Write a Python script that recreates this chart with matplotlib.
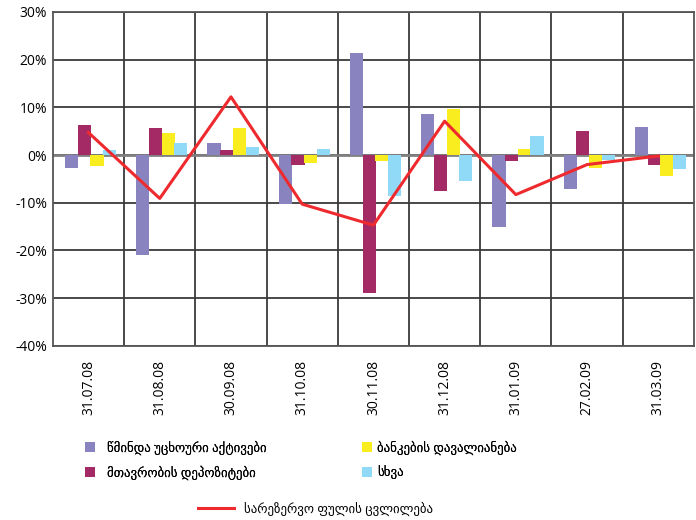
import matplotlib
matplotlib.use("Agg")
import matplotlib.pyplot as plt
import numpy as np
from matplotlib.patches import Patch
from matplotlib.lines import Line2D

plt.rcParams['font.family'] = ['Open Sans', 'DejaVu Sans']

dates = ["31.07.08", "31.08.08", "30.09.08", "31.10.08", "30.11.08",
         "31.12.08", "31.01.09", "27.02.09", "31.03.09"]

net_foreign_assets = [-2.7, -20.9, 2.5, -10.2, 21.4, 8.6, -15.0, -7.1, 5.9]
gov_deposits = [6.3, 5.7, 1.0, -2.1, -28.9, -7.5, -1.2, 5.0, -2.1]
bank_claims = [-2.3, 4.6, 5.7, -1.7, -1.2, 9.7, 1.3, -2.7, -4.5]
other = [1.0, 2.5, 1.7, 1.3, -8.6, -5.4, 4.0, -1.0, -2.9]
reserve_money_change = [4.7, -9.1, 12.2, -10.3, -14.7, 7.1, -8.3, -2.0, -0.2]

series_names = ["წმინდა უცხოური აქტივები", "მთავრობის დეპოზიტები",
                "ბანკების დავალიანება", "სხვა"]
line_name = "სარეზერვო ფულის ცვლილება"

colors = ["#8984BF", "#A42A66", "#F9EC1F", "#90D9F7"]
line_color = "#EE2A2E"

fig = plt.figure(figsize=(6.96, 5.2), dpi=100)
ax = fig.add_axes([0.076, 0.335, 0.921, 0.642])

x = np.arange(len(dates))
width = 0.185
step = 0.178
all_series = [net_foreign_assets, gov_deposits, bank_claims, other]
for i, (vals, c) in enumerate(zip(all_series, colors)):
    ax.bar(x + (i - 1.5) * step + 0.03, vals, width=width, color=c, zorder=3, linewidth=0)

ax.plot(x, reserve_money_change, color=line_color, linewidth=2.2, zorder=4)

ax.set_xlim(-0.5, len(dates) - 0.5)
ax.set_ylim(-40, 30)
yt = np.arange(-40, 31, 10)
ax.set_yticks(yt)
ax.set_yticklabels([f"{v}%" for v in yt], fontsize=10)
ax.set_xticks(x)
ax.set_xticklabels(dates, rotation=90, fontsize=10)
ax.set_xticks(np.arange(0.5, len(dates) - 0.5, 1), minor=True)
ax.tick_params(axis='both', which='both', length=0)
ax.tick_params(axis='x', pad=10)
ax.tick_params(axis='y', pad=4)

ax.grid(axis='y', which='major', color='#3a3a3a', linewidth=1.3, zorder=0)
ax.grid(axis='x', which='minor', color='#3a3a3a', linewidth=1.3, zorder=0)
ax.axhline(0, color='#808080', linewidth=2, zorder=2)
for s in ax.spines.values():
    s.set_color('#555555')
    s.set_linewidth(1.3)

fs = 9.3
h1 = [Patch(facecolor=colors[0]), Patch(facecolor=colors[1])]
leg1 = fig.legend(h1, series_names[:2], loc='upper left',
                  bbox_to_anchor=(73 / 696, 1 - 429 / 520), frameon=False,
                  fontsize=fs, handlelength=0.8, handleheight=0.8,
                  handletextpad=0.9, labelspacing=0.8)
h2 = [Patch(facecolor=colors[2]), Patch(facecolor=colors[3])]
leg2 = fig.legend(h2, series_names[2:], loc='upper left',
                  bbox_to_anchor=(350 / 696, 1 - 429 / 520), frameon=False,
                  fontsize=fs, handlelength=0.8, handleheight=0.8,
                  handletextpad=0.4, labelspacing=0.8)
fig.add_artist(leg1)
fig.add_artist(leg2)
leg3 = fig.legend([Line2D([0], [0], color=line_color, linewidth=2.2)], [line_name],
                  loc='center left', bbox_to_anchor=(186 / 696, 1 - 509 / 520),
                  frameon=False, fontsize=fs, handlelength=2.8, handletextpad=0.8)

fig.savefig("out.png", dpi=100)
